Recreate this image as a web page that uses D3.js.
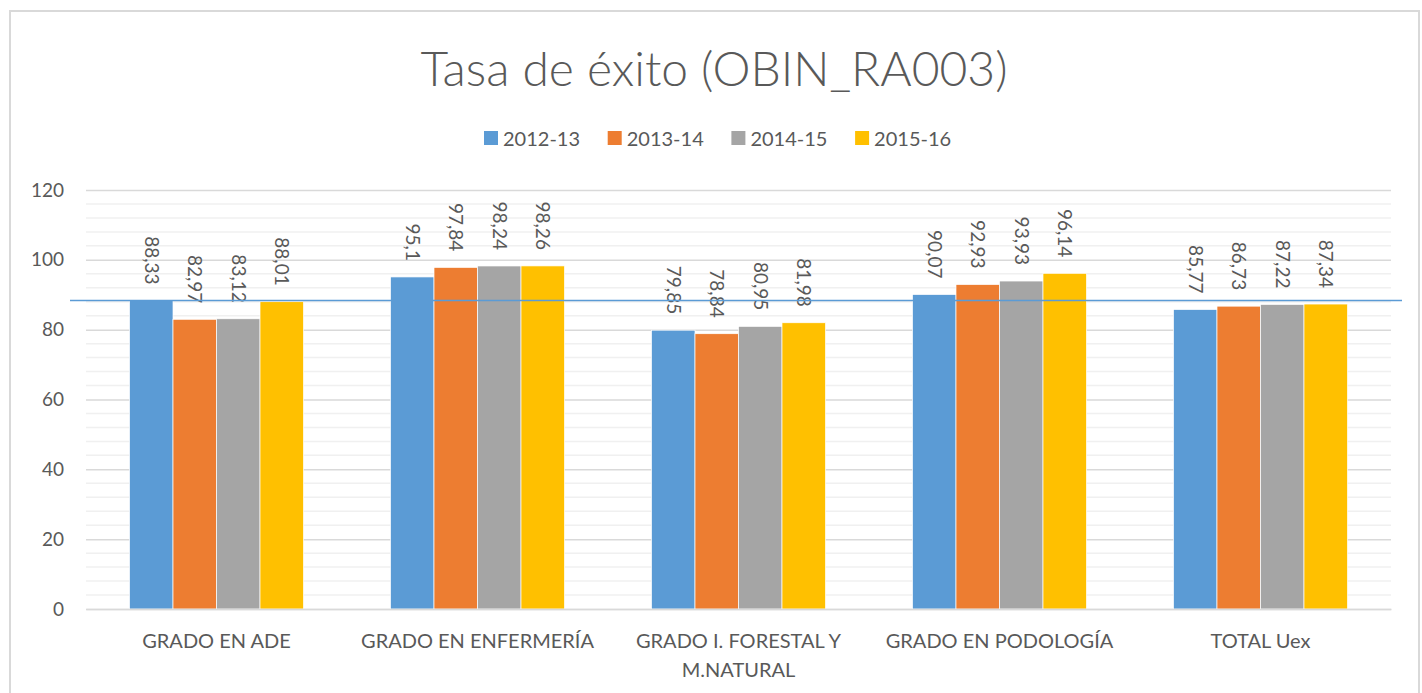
<!DOCTYPE html>
<html>
<head>
<meta charset="utf-8">
<script src="https://cdn.jsdelivr.net/npm/d3@7"></script>
<style>
  body { margin: 0; background: #fff; }
  text { font-family: Lato, "Open Sans", sans-serif; fill: #595959; }
</style>
</head>
<body>
<script>
// chart data
var categories = ['GRADO EN ADE', 'GRADO EN ENFERMERÍA', 'GRADO I. FORESTAL Y M.NATURAL', 'GRADO EN PODOLOGÍA', 'TOTAL Uex'];
var seriesNames = ['2012-13', '2013-14', '2014-15', '2015-16'];
var s2012 = [88.33, 95.1, 79.85, 90.07, 85.77];
var s2013 = [82.97, 97.84, 78.84, 92.93, 86.73];
var s2014 = [83.12, 98.24, 80.95, 93.93, 87.22];
var s2015 = [88.01, 98.26, 81.98, 96.14, 87.34];
var yTicks = [0, 20, 40, 60, 80, 100, 120];
var refValue = 88.33;
var colors = ['#5B9BD5', '#ED7D31', '#A5A5A5', '#FFC000'];

var width = 1422, height = 693;
var margin = {left: 86, right: 31, top: 190, bottom: 84};

var svg = d3.select('body').append('svg').attr('width', width).attr('height', height);

// outer frame
svg.append('rect')
  .attr('x', 10).attr('y', 11).attr('width', 1409).attr('height', 690)
  .attr('fill', 'none').attr('stroke', '#d9d9d9').attr('stroke-width', 2);

svg.append('text')
  .attr('x', 714).attr('y', 86)
  .attr('text-anchor', 'middle')
  .style('font-size', '48px').style('font-weight', 300)
  .text('Tasa de éxito (OBIN_RA003)');

var x0 = d3.scaleBand().domain(categories)
  .range([margin.left, width - margin.right]).paddingInner(0.3333).paddingOuter(0.1667);
var x1 = d3.scaleBand().domain(seriesNames).range([0, x0.bandwidth()]);
var y = d3.scaleLinear().domain([0, 120]).range([height - margin.bottom, margin.top]);

// minor gridlines every 4
var g = svg.append('g');
g.selectAll('line.minor').data(d3.range(0, 121, 4).filter(function(v){ return v % 20 != 0; }))
  .enter().append('line')
  .attr('x1', margin.left).attr('x2', width - margin.right)
  .attr('y1', function(d){ return y(d); }).attr('y2', function(d){ return y(d); })
  .attr('stroke', '#f0f0f0').attr('stroke-width', 1.5);

var yAxis = d3.axisLeft(y).tickValues(yTicks).tickSize(-(width - margin.left - margin.right)).tickPadding(22);
var ya = svg.append('g').attr('transform', 'translate(' + margin.left + ',0)').call(yAxis);
ya.select('.domain').remove();
ya.selectAll('line').attr('stroke', '#d9d9d9').attr('stroke-width', 1.5);
ya.selectAll('text').style('font-size', '19px').style('font-family', 'Lato, sans-serif').attr('fill', '#595959');

var series = [s2012, s2013, s2014, s2015];
var rows = categories.map(function(c, i) {
  return series.map(function(s, k) { return {cat: c, name: seriesNames[k], value: s[i], k: k}; });
});

var groups = svg.selectAll('g.cat').data(rows).enter().append('g')
  .attr('transform', function(d, i){ return 'translate(' + x0(categories[i]) + ',0)'; });

groups.selectAll('rect').data(function(d){ return d; }).enter().append('rect')
  .attr('x', function(d){ return x1(d.name); })
  .attr('width', x1.bandwidth())
  .attr('y', function(d){ return y(d.value); })
  .attr('height', function(d){ return y(0) - y(d.value); })
  .attr('fill', function(d){ return colors[d.k]; })
  .attr('stroke', '#fff').attr('stroke-width', 0.7);

groups.selectAll('text.lbl').data(function(d){ return d; }).enter().append('text')
  .attr('transform', function(d){
    return 'translate(' + (x1(d.name) + x1.bandwidth() / 2) + ',' + (y(d.value) - 16) + ') rotate(90)';
  })
  .attr('text-anchor', 'end').attr('dy', '0.35em')
  .style('font-size', '19px').attr('fill', '#404040')
  .text(function(d){ return String(d.value).replace('.', ','); });

// reference line
svg.append('line')
  .attr('x1', margin.left - 16).attr('x2', width - margin.right + 11)
  .attr('y1', y(refValue)).attr('y2', y(refValue))
  .attr('stroke', '#5B9BD5').attr('stroke-width', 1.5);

// x axis, labels wrapped to the band width
var xAxis = d3.axisBottom(x0).tickSize(0).tickPadding(0);
var xa = svg.append('g').attr('transform', 'translate(0,' + y(0) + ')').call(xAxis);
xa.select('.domain').attr('stroke', '#d9d9d9').attr('stroke-width', 1.5);
xa.selectAll('text').style('font-size', '20px').style('font-family', 'Lato, sans-serif').attr('fill', '#595959')
  .attr('y', 39).attr('dy', 0)
  .each(function(d) {
    var t = d3.select(this);
    var words = d.split(' ');
    t.text(null);
    var line = [], lineNo = 0;
    var tspan = t.append('tspan').attr('x', 0).attr('y', 39);
    words.forEach(function(w) {
      line.push(w);
      tspan.text(line.join(' '));
      if (tspan.node().getComputedTextLength() > 250 && line.length > 1) {
        line.pop();
        tspan.text(line.join(' '));
        line = [w];
        lineNo++;
        tspan = t.append('tspan').attr('x', 0).attr('y', 39 + lineNo * 29).text(w);
      }
    });
  });

// legend
var leg = svg.append('g').selectAll('g').data(seriesNames).enter().append('g')
  .attr('transform', function(d, i){ return 'translate(' + (484 + i * 123.7) + ',131)'; });
leg.append('rect').attr('width', 14).attr('height', 14).attr('fill', function(d, i){ return colors[i]; });
leg.append('text').attr('x', 19).attr('y', 14.5).style('font-size', '20px').text(function(d){ return d; });
</script>
</body>
</html>
